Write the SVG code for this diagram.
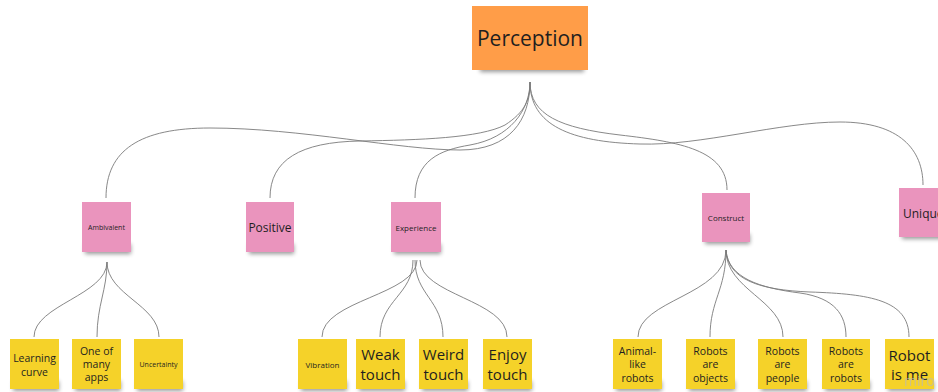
<svg xmlns="http://www.w3.org/2000/svg" width="938" height="392" viewBox="0 0 938 392">
  <defs>
    <filter id="soft" x="-20%" y="-50%" width="140%" height="200%">
      <feGaussianBlur stdDeviation="2"/>
    </filter>
    <style>
      .conn { fill: none; stroke: #7a7a7a; stroke-width: 0.9; }
      .shadow { fill: #000; opacity: 0.4; filter: url(#soft); }
      .orange { fill: #FF9D48; }
      .pink { fill: #EA94BD; }
      .yellow { fill: #F5D229; }
      text { font-family: "Open Sans", "Liberation Sans", sans-serif; fill: #1f1f1f; text-anchor: middle; dominant-baseline: central; }
      .xl { font-size: 21px; }
      .l { font-size: 15px; }
      .m { font-size: 12px; }
      .s { font-size: 10.5px; }
      .xs { font-size: 8px; }
      .xxs { font-size: 7px; }
      .mark { font-size: 14px; fill: #b9b9b9; opacity: 0.7; text-anchor: start; }
    </style>
  </defs>
  <rect width="938" height="392" fill="#ffffff"/>

  <!-- connectors -->
  <g id="connectors">
    <!-- Perception to second level -->
    <path class="conn" d="M530,82 C530,120 510,150 460,150 C400,150 300,128 210,128 C140,128 106,150 106,198"/>
    <path class="conn" d="M530,82 C530,100 525,112 505,125 C480,138 420,140 360,141 C300,142 270,160 270,198"/>
    <path class="conn" d="M530,82 C530,110 510,138 470,145 C440,150 415,160 415,198"/>
    <path class="conn" d="M530,82 C530,115 560,128 620,135 C680,142 727,150 727,190"/>
    <path class="conn" d="M530,82 C530,125 570,142 640,144 C700,146 780,122 840,122 C900,122 923,150 923,185"/>
    <!-- Ambivalent children -->
    <path class="conn" d="M107,262 C107,295 34,305 34,337"/>
    <path class="conn" d="M107,262 C107,290 97,305 97,337"/>
    <path class="conn" d="M107,262 C107,295 159,305 159,337"/>
    <!-- Experience children -->
    <path class="conn" d="M417,260 C417,295 322,300 322,337"/>
    <path class="conn" d="M413,260 C413,295 380,300 380,337"/>
    <path class="conn" d="M415,260 C415,295 443,300 443,337"/>
    <path class="conn" d="M420,260 C420,295 507,300 507,337"/>
    <!-- Construct children -->
    <path class="conn" d="M726,250 C726,295 638,300 638,337"/>
    <path class="conn" d="M726,250 C726,290 710,300 710,337"/>
    <path class="conn" d="M726,250 C726,290 783,300 783,337"/>
    <path class="conn" d="M726,250 C728,278 760,288 800,293 C835,298 846,315 846,337"/>
    <path class="conn" d="M726,250 C728,280 760,290 810,292 C870,294 909,300 909,337"/>
  </g>

  <!-- top level -->
  <g id="perception">
    <rect class="shadow" x="480" y="62" width="104" height="10"/>
    <rect class="orange" x="472" y="6" width="116" height="64"/>
    <text class="xl" x="530" y="38">Perception</text>
  </g>

  <!-- second level -->
  <g id="ambivalent">
    <rect class="shadow" x="85" y="244" width="46" height="10"/>
    <rect class="pink" x="82" y="202" width="49" height="50"/>
    <text class="xxs" x="106.5" y="227">Ambivalent</text>
  </g>
  <g id="positive">
    <rect class="shadow" x="249" y="244" width="45" height="10"/>
    <rect class="pink" x="246" y="202" width="48" height="50"/>
    <text class="m" x="270" y="227">Positive</text>
  </g>
  <g id="experience">
    <rect class="shadow" x="394" y="244" width="47" height="10"/>
    <rect class="pink" x="391" y="202" width="50" height="50"/>
    <text class="xs" x="416" y="227">Experience</text>
  </g>
  <g id="construct">
    <rect class="shadow" x="705" y="234" width="45" height="10"/>
    <rect class="pink" x="702" y="193" width="48" height="49"/>
    <text class="xs" x="726" y="217">Construct</text>
  </g>
  <g id="unique">
    <rect class="shadow" x="902" y="229" width="45" height="10"/>
    <rect class="pink" x="899" y="188" width="48" height="49"/>
    <text class="m" x="903" y="213" style="text-anchor:start">Unique</text>
  </g>

  <!-- third level -->
  <g id="learning-curve">
    <rect class="shadow" x="13" y="381" width="46" height="10"/>
    <rect class="yellow" x="10" y="339" width="49" height="50"/>
    <text class="s" x="34.5" y="358">Learning</text>
    <text class="s" x="34.5" y="372">curve</text>
  </g>
  <g id="one-of-many-apps">
    <rect class="shadow" x="75" y="381" width="46" height="10"/>
    <rect class="yellow" x="72" y="339" width="49" height="50"/>
    <text class="s" x="96.5" y="351">One of</text>
    <text class="s" x="96.5" y="364">many</text>
    <text class="s" x="96.5" y="377">apps</text>
  </g>
  <g id="uncertainty">
    <rect class="shadow" x="137" y="381" width="46" height="10"/>
    <rect class="yellow" x="134" y="339" width="49" height="50"/>
    <text class="xxs" x="158.5" y="364">Uncertainty</text>
  </g>
  <g id="vibration">
    <rect class="shadow" x="301" y="381" width="46" height="10"/>
    <rect class="yellow" x="298" y="339" width="49" height="50"/>
    <text class="xs" x="322.5" y="364">Vibration</text>
  </g>
  <g id="weak-touch">
    <rect class="shadow" x="359" y="381" width="46" height="10"/>
    <rect class="yellow" x="356" y="339" width="49" height="50"/>
    <text class="l" x="380.5" y="354">Weak</text>
    <text class="l" x="380.5" y="374">touch</text>
  </g>
  <g id="weird-touch">
    <rect class="shadow" x="422" y="381" width="46" height="10"/>
    <rect class="yellow" x="419" y="339" width="49" height="50"/>
    <text class="l" x="443.5" y="354">Weird</text>
    <text class="l" x="443.5" y="374">touch</text>
  </g>
  <g id="enjoy-touch">
    <rect class="shadow" x="486" y="381" width="46" height="10"/>
    <rect class="yellow" x="483" y="339" width="49" height="50"/>
    <text class="l" x="507.5" y="354">Enjoy</text>
    <text class="l" x="507.5" y="374">touch</text>
  </g>
  <g id="animal-like-robots">
    <rect class="shadow" x="616" y="381" width="46" height="10"/>
    <rect class="yellow" x="613" y="339" width="49" height="50"/>
    <text class="s" x="637.5" y="351">Animal-</text>
    <text class="s" x="637.5" y="364">like</text>
    <text class="s" x="637.5" y="378">robots</text>
  </g>
  <g id="robots-are-objects">
    <rect class="shadow" x="689" y="381" width="46" height="10"/>
    <rect class="yellow" x="686" y="339" width="49" height="50"/>
    <text class="s" x="710.5" y="351">Robots</text>
    <text class="s" x="710.5" y="364">are</text>
    <text class="s" x="710.5" y="378">objects</text>
  </g>
  <g id="robots-are-people">
    <rect class="shadow" x="761" y="381" width="46" height="10"/>
    <rect class="yellow" x="758" y="339" width="49" height="50"/>
    <text class="s" x="782.5" y="351">Robots</text>
    <text class="s" x="782.5" y="364">are</text>
    <text class="s" x="782.5" y="378">people</text>
  </g>
  <g id="robots-are-robots">
    <rect class="shadow" x="825" y="381" width="45" height="10"/>
    <rect class="yellow" x="822" y="339" width="48" height="50"/>
    <text class="s" x="846" y="351">Robots</text>
    <text class="s" x="846" y="364">are</text>
    <text class="s" x="846" y="378">robots</text>
  </g>
  <g id="robot-is-me">
    <rect class="shadow" x="888" y="381" width="46" height="10"/>
    <rect class="yellow" x="885" y="339" width="49" height="50"/>
    <text class="l" x="909.5" y="355">Robot</text>
    <text class="l" x="909.5" y="374">is me</text>
  </g>

  <text class="mark" x="904" y="380">miro</text>
</svg>
